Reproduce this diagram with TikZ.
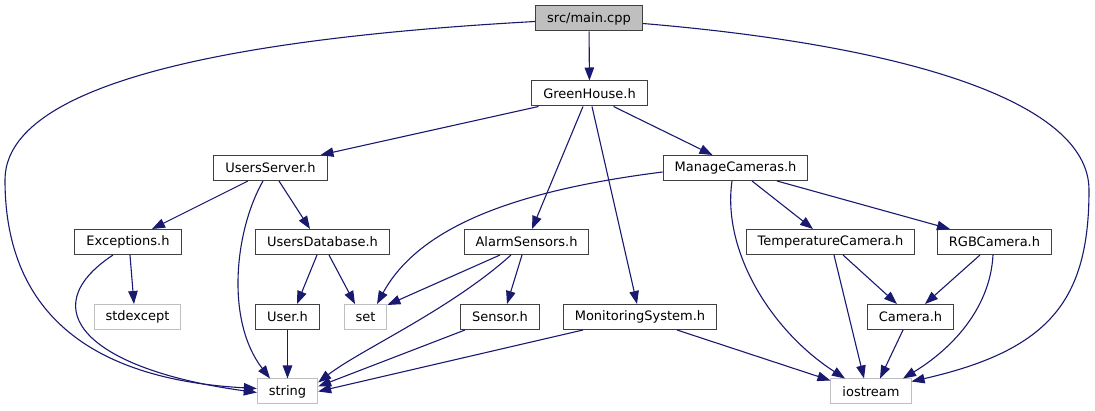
\documentclass[tikz,border=0pt]{standalone}
\usepackage{fontspec}
\setmainfont{DejaVu Sans}
\usetikzlibrary{arrows.meta}
\definecolor{edgeblue}{HTML}{191970}
\definecolor{sysgrey}{HTML}{BFBFBF}
\definecolor{boxgrey}{HTML}{404040}

\begin{document}
\begin{tikzpicture}[
  x=1pt, y=-1pt,
  hdr/.style={draw=boxgrey, fill=white, line width=1pt, font=\fontsize{13}{15}\selectfont, minimum height=25pt, inner xsep=11.5pt, inner ysep=0pt},
  sys/.style={hdr, draw=sysgrey},
  src/.style={hdr, fill=sysgrey},
  inc/.style={draw=edgeblue, line width=1.1pt, -{Triangle[length=13pt,width=9.5pt]}}
]
  \useasboundingbox (0,0) rectangle (1095,411);

  \node[src] (mn) at (589,18.5) {src/main.cpp};
  \node[hdr] (gh) at (589.5,93.5) {GreenHouse.h};
  \node[hdr] (us) at (270.5,168) {UsersServer.h};
  \node[hdr] (mc) at (735.5,168) {ManageCameras.h};
  \node[hdr] (ex) at (128,242) {Exceptions.h};
  \node[hdr] (ud) at (322.5,242) {UsersDatabase.h};
  \node[hdr] (al) at (526.5,242) {AlarmSensors.h};
  \node[hdr] (tc) at (830.5,242) {TemperatureCamera.h};
  \node[hdr] (rgb) at (994.5,242) {RGBCamera.h};
  \node[sys] (sx) at (137.5,317) {stdexcept};
  \node[hdr] (usr) at (287.5,317) {User.h};
  \node[sys] (st) at (365.5,317) {set};
  \node[hdr] (sn) at (500,317) {Sensor.h};
  \node[hdr] (ms) at (640,317) {MonitoringSystem.h};
  \node[hdr] (cam) at (910.5,317) {Camera.h};
  \node[sys] (str) at (287.5,391.5) {string};
  \node[sys] (io) at (871,391.5) {iostream};

  \draw[inc] (mn) -- (gh);
  \draw[inc] ([yshift=-3pt]mn.west) .. controls (200,40) and (5,90) .. (5,180) .. controls (5,320) and (100,380) .. ([yshift=3pt]str.west);
  \draw[inc] ([yshift=-5pt]mn.east) .. controls (900,45) and (1089,100) .. (1089,190) .. controls (1089,300) and (1050,350) .. ([yshift=-3pt]io.north east);
  \draw[inc] ([xshift=-51pt]gh.south) -- ([xshift=50pt]us.north);
  \draw[inc] ([xshift=24pt]gh.south) -- ([xshift=-23pt]mc.north);
  \draw[inc] ([xshift=-6.5pt]gh.south) -- ([xshift=5.5pt]al.north);
  \draw[inc] ([xshift=2.5pt]gh.south) -- ([xshift=-3pt]ms.north);
  \draw[inc] ([xshift=-22.5pt]us.south) -- ([xshift=24pt]ex.north);
  \draw[inc] ([xshift=-7.5pt]us.south) .. controls (235,230) and (225,320) .. ([xshift=-17.5pt]str.north);
  \draw[inc] ([xshift=8.5pt]us.south) -- ([xshift=-12.5pt]ud.north);
  \draw[inc] ([yshift=-4pt]mc.west) .. controls (520,190) and (420,225) .. ([xshift=11.5pt]st.north);
  \draw[inc] ([xshift=-3.5pt]mc.south) .. controls (722,250) and (770,330) .. ([xshift=-26pt]io.north);
  \draw[inc] ([xshift=16.5pt]mc.south) -- ([xshift=-17.5pt]tc.north);
  \draw[inc] ([xshift=41.5pt]mc.south) -- ([xshift=-44.5pt]rgb.north);
  \draw[inc] ([xshift=-15pt]ex.south) .. controls (30,310) and (90,370) .. ([yshift=-1pt]str.west);
  \draw[inc] ([xshift=2pt]ex.south) -- ([xshift=-3.5pt]sx.north);
  \draw[inc] ([xshift=-5.5pt]ud.south) -- ([xshift=9.5pt]usr.north);
  \draw[inc] ([xshift=6.5pt]ud.south) -- ([xshift=-10.5pt]st.north);
  \draw[inc] ([xshift=-26.5pt]al.south) -- ([yshift=-1pt]st.north east);
  \draw[inc] ([xshift=-15.5pt]al.south) .. controls (450,310) and (360,350) .. ([yshift=9pt]str.east);
  \draw[inc] ([xshift=-4.5pt]al.south) -- ([xshift=7pt]sn.north);
  \draw[inc] ([xshift=-35pt]sn.south) -- ([yshift=5pt]str.east);
  \draw[inc] ([xshift=-57pt]ms.south) -- (str.east);
  \draw[inc] ([xshift=37pt]ms.south) -- ([yshift=-2pt]io.north west);
  \draw[inc] ([xshift=12.5pt]tc.south) -- ([xshift=-13.5pt]cam.north);
  \draw[inc] ([xshift=3.5pt]tc.south) -- ([xshift=-7pt]io.north);
  \draw[inc] ([xshift=-14.5pt]rgb.south) -- ([xshift=14.5pt]cam.north);
  \draw[inc] ([xshift=-1.5pt]rgb.south) .. controls (990,310) and (950,350) .. ([xshift=32pt]io.north);
  \draw[inc] ([xshift=-7.5pt]cam.south) -- ([xshift=9pt]io.north);
  \draw[inc] (usr) -- (str);
\end{tikzpicture}
\end{document}
